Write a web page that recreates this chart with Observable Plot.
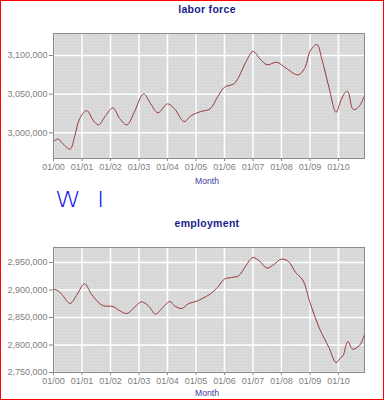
<!DOCTYPE html>
<html><head><meta charset="utf-8">
<script src="https://cdn.jsdelivr.net/npm/d3@7"></script>
<script src="https://cdn.jsdelivr.net/npm/@observablehq/plot@0.6"></script>
<style>
html,body{margin:0;padding:0;background:#fff;}
#wrap{position:relative;width:384px;height:400px;overflow:hidden;font-family:"Liberation Sans",Arial,sans-serif;background:#fff;}
#border{position:absolute;left:0;top:0;width:384px;height:400px;box-sizing:border-box;border:1px solid #ff0000;pointer-events:none;z-index:10;}
.panel{position:absolute;left:0;}
.title{position:absolute;left:0;width:414px;text-align:center;font-weight:bold;font-size:10.5px;color:#1a1a8a;letter-spacing:0.3px;line-height:12px;}
.xlab{position:absolute;left:0;width:414px;text-align:center;font-size:8.6px;color:#3a3a9e;line-height:10px;}
.hand{position:absolute;left:55px;top:188px;font-family:"DejaVu Sans",sans-serif;font-weight:200;font-size:21px;color:#1414f0;letter-spacing:3px;line-height:24px;transform:scaleX(1.25);transform-origin:left top;}
</style>
</head><body>
<div id="wrap">
  <div class="title" style="top:3px">labor force</div>
  <div class="xlab" style="top:176px">Month</div>
  <div class="hand">W I</div>
  <div class="title" style="top:217px">employment</div>
  <div class="xlab" style="top:388px">Month</div>
  <div id="border"></div>
</div>
<script>
// months since Jan 2000
const lfMonth = [0,2,4,7,9,11,14,17,19,22,25,28,31,34,38,41,44,48,51,55,58,62,66,69,72,76,78,81,84,87,90,94,98,103,106,108,111,113,116,119,121,123,124,126,127,129,131];
const lfValue = [2988700,2992000,2985800,2979000,2996500,3018100,3028800,3015000,3010300,3022400,3032300,3018100,3010300,3026600,3050400,3037500,3025900,3037500,3031000,3014600,3022400,3027500,3031000,3046000,3059000,3063400,3071900,3091300,3105200,3095700,3088000,3091300,3083600,3075000,3084900,3105600,3114200,3095700,3059000,3026600,3041800,3052500,3053400,3031000,3030100,3035300,3048000];

const empMonth = [0,2,4,7,10,13,16,19,21,25,28,31,34,37,40,43,46,49,51,54,57,60,63,66,69,72,75,78,81,84,87,90,93,96,99,102,105,108,112,116,119,121,122,124,126,129,131];
const empValue = [2901600,2898500,2889500,2875500,2892500,2911500,2892500,2877300,2871300,2870000,2862200,2857300,2868200,2878500,2871300,2856200,2868200,2879100,2871300,2866400,2875500,2879100,2885300,2892500,2904500,2919800,2922700,2925800,2944000,2959100,2951800,2939800,2947100,2956200,2951800,2931800,2918000,2877300,2830700,2795500,2768200,2777300,2780400,2806400,2792500,2799800,2819800];

const yearTicks = d3.range(2000, 2011).map(y => new Date(Date.UTC(y, 0, 1)));
const lfTicks = [3000000, 3050000, 3100000];
const empTicks = [2750000, 2800000, 2850000, 2900000, 2950000];
const lfDomain = [2966800, 3128500];
const empDomain = [2750000, 2977300];

const toDate = m => new Date(Date.UTC(2000 + Math.floor(m / 12), m % 12, 1));

function panel(months, values, yDomain, yTicks, top, marginTop, id) {
  const data = months.map((m, i) => ({date: toDate(m), value: values[i]}));
  const plotH = 125;
  const marginBottom = 30;
  const chart = Plot.plot({
    width: 384,
    height: marginTop + plotH + marginBottom,
    marginLeft: 53, marginRight: 20, marginTop, marginBottom,
    style: {fontFamily: "Liberation Sans, Arial, sans-serif", fontSize: "9px", color: "#808080", background: "transparent", overflow: "visible"},
    x: {type: "utc", domain: [toDate(0), toDate(131)], ticks: yearTicks, tickFormat: d3.utcFormat("%m/%y"), tickSize: 3, tickPadding: 2, label: null},
    y: {domain: yDomain, ticks: yTicks, tickFormat: d3.format(","), tickSize: 4, tickPadding: 2, label: null},
    marks: [
      Plot.frame({fill: `url(#${id})`}),
      Plot.ruleX(yearTicks, {stroke: "#ffffff", strokeWidth: 1.5}),
      Plot.ruleY(yTicks, {stroke: "#ffffff", strokeWidth: 1.5}),
      Plot.line(data, {x: "date", y: "value", curve: "catmull-rom", stroke: "#9a3a3a", strokeWidth: 1}),
      Plot.frame({stroke: "#8a8a8a", strokeWidth: 1})
    ]
  });
  const svg = d3.select(chart);
  const defs = svg.insert("defs", ":first-child");
  const pat = defs.append("pattern").attr("id", id).attr("width", 3).attr("height", 3).attr("patternUnits", "userSpaceOnUse");
  pat.append("rect").attr("width", 3).attr("height", 3).attr("fill", "#d6d6d6");
  pat.append("rect").attr("width", 1).attr("height", 1).attr("fill", "#eeeeee");
  chart.classList.add("panel");
  chart.style.top = top + "px";
  chart.style.position = "absolute";
  document.getElementById("wrap").insertBefore(chart, document.getElementById("border"));
}

panel(lfMonth, lfValue, lfDomain, lfTicks, 0, 33, "dotsA");
panel(empMonth, empValue, empDomain, empTicks, 200, 47, "dotsB");
</script>
</body></html>
